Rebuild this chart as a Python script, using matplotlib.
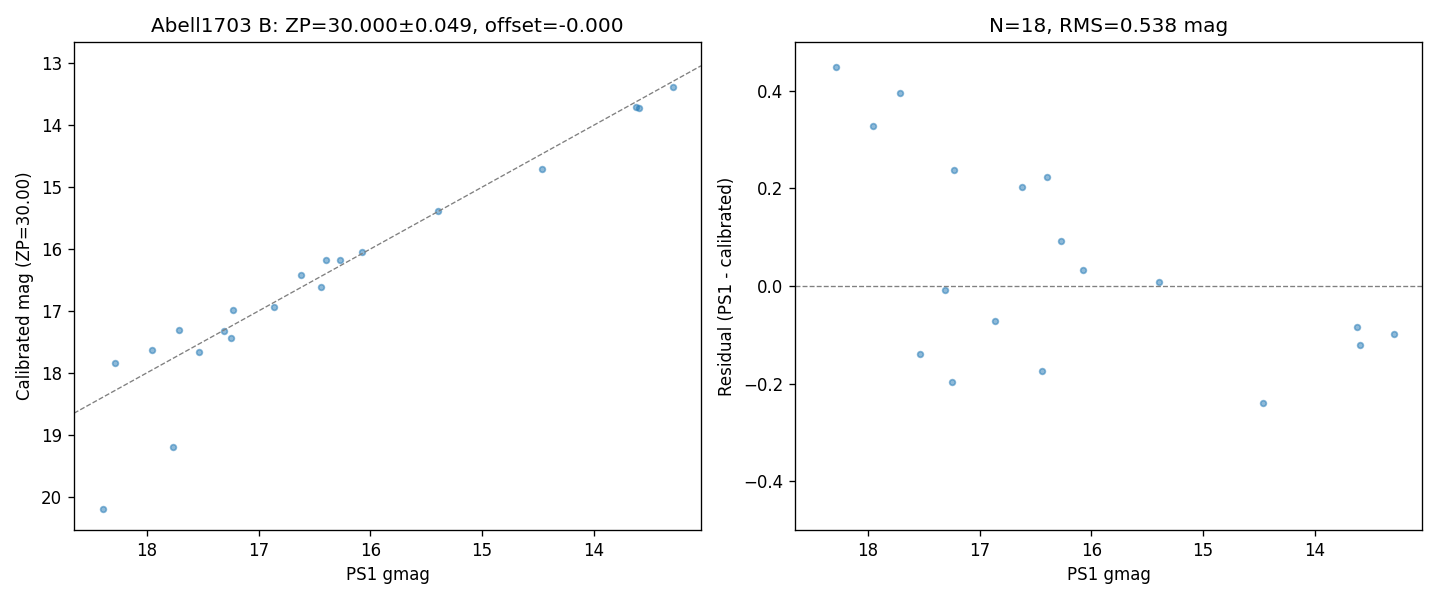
import numpy as np
import matplotlib
matplotlib.use("Agg")
import matplotlib.pyplot as plt

# PS1 g magnitudes of the matched stars
ps1_gmag = np.array([18.391, 18.288, 17.957, 17.765, 17.711, 17.531, 17.312, 17.245,
                     17.227, 16.864, 16.623, 16.440, 16.395, 16.269, 16.077, 15.392,
                     14.465, 13.622, 13.597, 13.288])
# Calibrated magnitudes (ZP=30.00)
calibrated = np.array([20.194, 17.840, 17.629, 19.206, 17.315, 17.671, 17.321, 17.441,
                       16.989, 16.935, 16.420, 16.615, 16.171, 16.177, 16.045, 15.384,
                       14.704, 13.707, 13.717, 13.387])
residual = ps1_gmag - calibrated

left_title = "Abell1703 B: ZP=30.000\u00b10.049, offset=-0.000"
right_title = "N=18, RMS=0.538 mag"

fig, (ax1, ax2) = plt.subplots(1, 2, figsize=(12, 5), dpi=120)
fig.subplots_adjust(left=0.0514, right=0.9875, bottom=0.1167, top=0.93, wspace=0.15)

xlim = (18.653, 13.04)

ax1.scatter(ps1_gmag, calibrated, s=12, color="C0", alpha=0.5)
ax1.plot(xlim, xlim, "--", color="gray", lw=0.8)
ax1.set_xlim(xlim)
ax1.set_ylim(20.54, 12.655)
ax1.set_xlabel("PS1 gmag")
ax1.set_ylabel("Calibrated mag (ZP=30.00)")
ax1.set_title(left_title, fontsize=12)

ax2.scatter(ps1_gmag, residual, s=12, color="C0", alpha=0.5)
ax2.axhline(0, ls="--", color="gray", lw=0.8)
ax2.set_xlim(xlim)
ax2.set_ylim(-0.5, 0.5)
ax2.set_xlabel("PS1 gmag")
ax2.set_ylabel("Residual (PS1 - calibrated)")
ax2.set_title(right_title, fontsize=12)

fig.savefig("out.png", dpi=120)
